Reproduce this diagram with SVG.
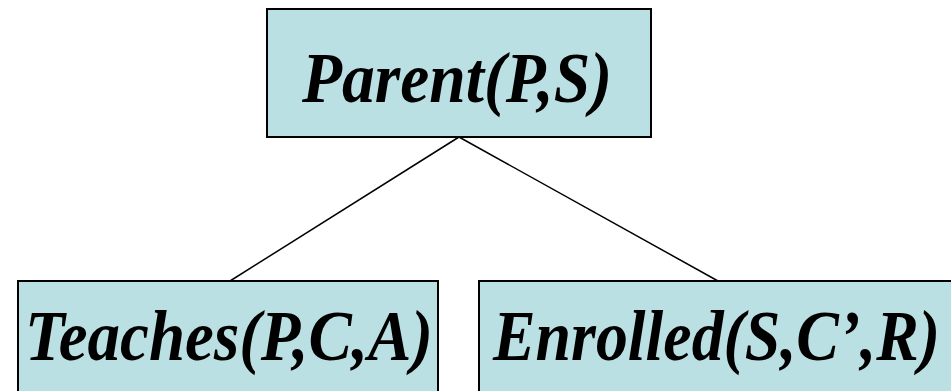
<svg xmlns="http://www.w3.org/2000/svg" width="951" height="391" viewBox="0 0 951 391">
<style>
.box{fill:#BBE0E3;stroke:#000;stroke-width:2}
.lbl{font-family:"Liberation Serif","Times New Roman",serif;font-weight:bold;font-style:italic;font-size:72px;fill:#000}
.edge{stroke:#000;stroke-width:1.5;fill:none}
</style>
<rect width="951" height="391" fill="#fff"/>
<g id="connectors">
<line class="edge" x1="459" y1="137" x2="230" y2="281"/>
<line class="edge" x1="459" y1="137" x2="718" y2="281"/>
</g>
<g id="parent">
<rect class="box" x="267" y="9" width="384" height="128"/>
<text class="lbl" x="302" y="102" textLength="310" lengthAdjust="spacingAndGlyphs">Parent(P,S)</text>
</g>
<g id="teaches">
<rect class="box" x="18" y="281" width="420" height="120"/>
<text class="lbl" x="25" y="360" textLength="408" lengthAdjust="spacingAndGlyphs">Teaches(P,C,A)</text>
</g>
<g id="enrolled">
<rect class="box" x="479" y="281" width="480" height="120"/>
<text class="lbl" x="493" y="360" textLength="447" lengthAdjust="spacingAndGlyphs">Enrolled(S,C’,R)</text>
</g>
</svg>
